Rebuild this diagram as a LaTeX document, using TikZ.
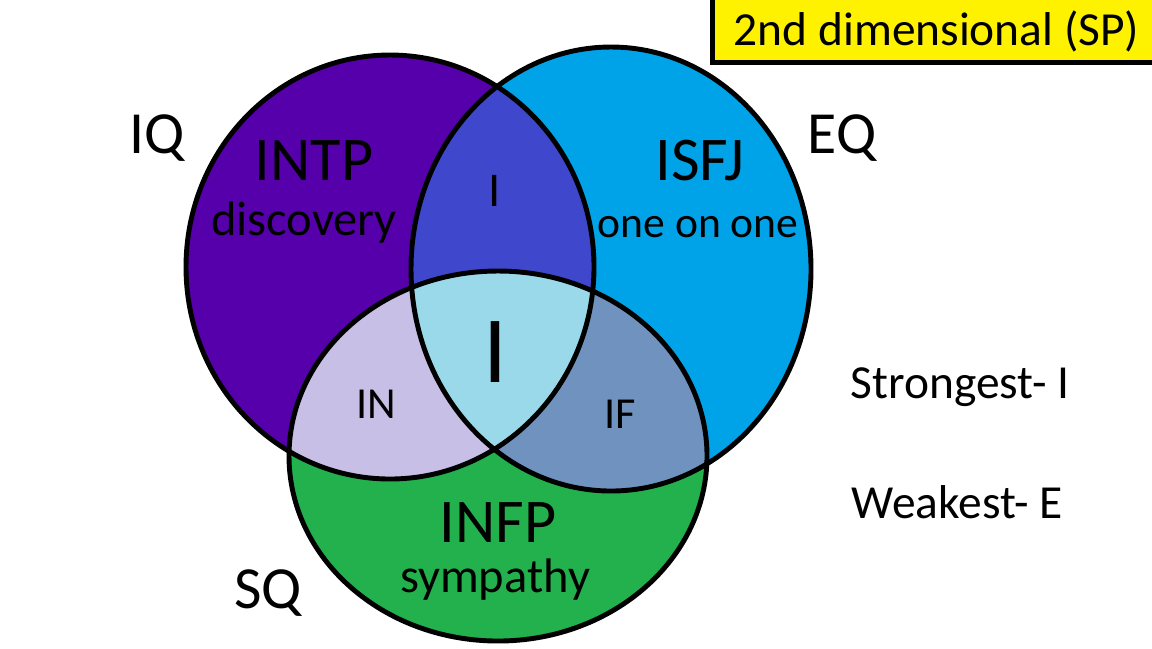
\documentclass[tikz,border=0pt]{standalone}
\usepackage{fontspec}
\setmainfont{Carlito}
\usetikzlibrary{positioning}
\definecolor{vnPurple}{RGB}{85,0,170}
\definecolor{vnBlue}{RGB}{0,162,232}
\definecolor{vnGreen}{RGB}{34,177,76}
\definecolor{vnIndigo}{RGB}{63,72,204}
\definecolor{vnLavender}{RGB}{200,191,231}
\definecolor{vnSlate}{RGB}{112,146,190}
\definecolor{vnAqua}{RGB}{153,217,234}
\definecolor{vnYellow}{RGB}{255,242,0}
\tikzset{
    base/.style={inner sep=0pt, anchor=base, text=black},
    ring/.style={draw=black, line width=1.4pt},
    setname/.style={base, font=\fontsize{17}{20}\selectfont},
    typename/.style={base, font=\fontsize{17.7}{21}\selectfont},
    motto/.style={base, font=\fontsize{13.8}{16}\selectfont},
    pair/.style={base, font=\fontsize{12.6}{15}\selectfont},
    core/.style={base, font=\fontsize{27}{32}\selectfont},
    note/.style={base, anchor=base west, font=\fontsize{13.5}{16}\selectfont},
    flag/.style={draw=black, fill=vnYellow, line width=1.4pt}
}
\begin{document}
\begin{tikzpicture}[x=0.1mm, y=-0.1mm]
  \useasboundingbox (0,0) rectangle (1152,648);
  \clip (0,0) rectangle (1152,648);

  % the three sets
  \def\setIQ{(390,267) ellipse [x radius=204, y radius=212]}
  \def\setEQ{(611,269) ellipse [x radius=200, y radius=222]}
  \def\setSQ{(498,456) ellipse [x radius=209, y radius=185]}

  \fill[vnPurple] \setIQ;
  \fill[vnBlue] \setEQ;
  \fill[vnGreen] \setSQ;

  % overlaps
  \begin{scope}
    \clip \setIQ;
    \fill[vnIndigo] \setEQ;
    \fill[vnLavender] \setSQ;
  \end{scope}
  \begin{scope}
    \clip \setEQ;
    \fill[vnSlate] \setSQ;
    \clip \setIQ;
    \fill[vnAqua] \setSQ;
  \end{scope}

  \draw[ring] \setIQ;
  \draw[ring] \setEQ;
  \draw[ring] \setSQ;

  % set names
  \node[setname] (iq) at (157,153) {IQ};
  \node[setname] (eq) at (842,153) {EQ};
  \node[setname] (sq) at (268,608) {SQ};

  % types
  \node[typename] (intp) at (314,180) {INTP};
  \node[motto] (discovery) at (304,235) {discovery};
  \node[typename] (isfj) at (700,180) {ISFJ};
  \node[motto, font=\fontsize{12.4}{15}\selectfont] (oneonone) at (698,237) {one on one};
  \node[typename] (infp) at (498,542) {INFP};
  \node[motto] (sympathy) at (495,592) {sympathy};

  % overlaps text
  \node[motto] (top) at (495,206) {I};
  \node[pair] (in) at (376,418) {IN};
  \node[pair] (if) at (620,428) {IF};
  \node[core] (centre) at (495,382) {I};

  % notes
  \node[note] (strong) at (850,398) {Strongest- I};
  \node[note] (weak) at (851,518) {Weakest- E};

  % title box
  \draw[flag] (712.5,-10) rectangle (1165,62.5);
  \node[note] (title) at (733,45) {2nd dimensional (SP)};
\end{tikzpicture}
\end{document}
